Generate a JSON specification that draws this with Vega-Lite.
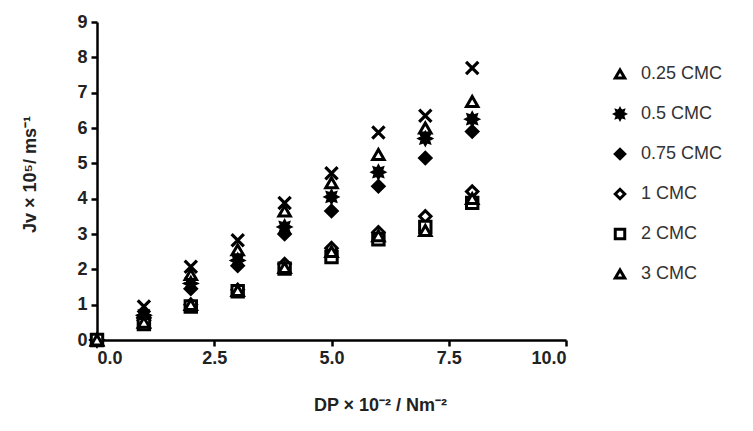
{
  "$schema": "https://vega.github.io/schema/vega-lite/v6.json",
  "width": 469,
  "height": 318,
  "autosize": {"type": "none"},
  "padding": {"left": 97, "top": 22, "right": 187, "bottom": 91},
  "background": "white",
  "config": {
    "view": {"stroke": null},
    "axis": {
      "domainColor": "black",
      "domainWidth": 2.5,
      "tickColor": "black",
      "tickWidth": 2.5,
      "tickSize": 6,
      "grid": false,
      "labelFont": "Liberation Sans",
      "labelFontWeight": "bold",
      "labelFontSize": 18,
      "labelColor": "#222",
      "titleFont": "Liberation Sans",
      "titleFontWeight": "bold",
      "titleFontSize": 18,
      "titleColor": "#222"
    },
    "legend": {
      "orient": "none", "legendX": 514, "legendY": 43, "padding": 0,
      "labelFont": "Liberation Sans", "labelFontSize": 18, "labelColor": "#333", "labelOffset": 12,
      "rowPadding": 18, "symbolSize": 90, "symbolStrokeWidth": 3
    }
  },
  "data": {
    "values": [
      {"series": "unlabelled", "dp": 0, "jv": 0},
      {"series": "unlabelled", "dp": 1, "jv": 0.95},
      {"series": "unlabelled", "dp": 2, "jv": 2.07},
      {"series": "unlabelled", "dp": 3, "jv": 2.82},
      {"series": "unlabelled", "dp": 4, "jv": 3.88},
      {"series": "unlabelled", "dp": 5, "jv": 4.72},
      {"series": "unlabelled", "dp": 6, "jv": 5.87},
      {"series": "unlabelled", "dp": 7, "jv": 6.35},
      {"series": "unlabelled", "dp": 8, "jv": 7.7},
      {"series": "0.25 CMC", "dp": 0, "jv": 0},
      {"series": "0.25 CMC", "dp": 1, "jv": 0.8},
      {"series": "0.25 CMC", "dp": 2, "jv": 1.85},
      {"series": "0.25 CMC", "dp": 3, "jv": 2.55},
      {"series": "0.25 CMC", "dp": 4, "jv": 3.65},
      {"series": "0.25 CMC", "dp": 5, "jv": 4.45},
      {"series": "0.25 CMC", "dp": 6, "jv": 5.25},
      {"series": "0.25 CMC", "dp": 7, "jv": 6.0},
      {"series": "0.25 CMC", "dp": 8, "jv": 6.75},
      {"series": "0.5 CMC", "dp": 0, "jv": 0},
      {"series": "0.5 CMC", "dp": 1, "jv": 0.7},
      {"series": "0.5 CMC", "dp": 2, "jv": 1.6},
      {"series": "0.5 CMC", "dp": 3, "jv": 2.25},
      {"series": "0.5 CMC", "dp": 4, "jv": 3.2},
      {"series": "0.5 CMC", "dp": 5, "jv": 4.05},
      {"series": "0.5 CMC", "dp": 6, "jv": 4.75},
      {"series": "0.5 CMC", "dp": 7, "jv": 5.7},
      {"series": "0.5 CMC", "dp": 8, "jv": 6.25},
      {"series": "0.75 CMC", "dp": 0, "jv": 0},
      {"series": "0.75 CMC", "dp": 1, "jv": 0.6},
      {"series": "0.75 CMC", "dp": 2, "jv": 1.45},
      {"series": "0.75 CMC", "dp": 3, "jv": 2.1},
      {"series": "0.75 CMC", "dp": 4, "jv": 3.0},
      {"series": "0.75 CMC", "dp": 5, "jv": 3.65},
      {"series": "0.75 CMC", "dp": 6, "jv": 4.35},
      {"series": "0.75 CMC", "dp": 7, "jv": 5.15},
      {"series": "0.75 CMC", "dp": 8, "jv": 5.9},
      {"series": "1 CMC", "dp": 0, "jv": 0},
      {"series": "1 CMC", "dp": 1, "jv": 0.55},
      {"series": "1 CMC", "dp": 2, "jv": 1.0},
      {"series": "1 CMC", "dp": 3, "jv": 1.42},
      {"series": "1 CMC", "dp": 4, "jv": 2.15},
      {"series": "1 CMC", "dp": 5, "jv": 2.6},
      {"series": "1 CMC", "dp": 6, "jv": 3.05},
      {"series": "1 CMC", "dp": 7, "jv": 3.5},
      {"series": "1 CMC", "dp": 8, "jv": 4.2},
      {"series": "2 CMC", "dp": 0, "jv": 0},
      {"series": "2 CMC", "dp": 1, "jv": 0.45},
      {"series": "2 CMC", "dp": 2, "jv": 0.95},
      {"series": "2 CMC", "dp": 3, "jv": 1.38},
      {"series": "2 CMC", "dp": 4, "jv": 2.02},
      {"series": "2 CMC", "dp": 5, "jv": 2.35},
      {"series": "2 CMC", "dp": 6, "jv": 2.85},
      {"series": "2 CMC", "dp": 7, "jv": 3.2},
      {"series": "2 CMC", "dp": 8, "jv": 3.88},
      {"series": "3 CMC", "dp": 0, "jv": 0},
      {"series": "3 CMC", "dp": 1, "jv": 0.5},
      {"series": "3 CMC", "dp": 2, "jv": 1.0},
      {"series": "3 CMC", "dp": 3, "jv": 1.4},
      {"series": "3 CMC", "dp": 4, "jv": 2.05},
      {"series": "3 CMC", "dp": 5, "jv": 2.5},
      {"series": "3 CMC", "dp": 6, "jv": 2.95},
      {"series": "3 CMC", "dp": 7, "jv": 3.1},
      {"series": "3 CMC", "dp": 8, "jv": 4.0}
    ]
  },
  "encoding": {
    "x": {"field": "dp", "type": "quantitative", "scale": {"domain": [0, 10], "nice": false},
      "axis": {"orient": "bottom", "values": [0, 2.5, 5, 7.5, 10], "format": ".1f", "title": "DP × 10⁻² / Nm⁻²", "titleX": 283, "titleY": 65, "titleAlign": "center", "titleBaseline": "middle", "labelPadding": 3}},
    "y": {"field": "jv", "type": "quantitative", "scale": {"domain": [0, 9], "nice": false},
      "axis": {"orient": "left", "values": [0, 1, 2, 3, 4, 5, 6, 7, 8, 9], "title": "Jv × 10⁵/ ms⁻¹", "titleX": -67, "titleY": 152, "titleAngle": 270, "titleAlign": "center", "titleBaseline": "middle", "labelPadding": 4}}
  },
  "layer": [
    {
      "transform": [{"filter": "datum.series === 'unlabelled'"}],
      "mark": {"type": "point", "shape": "M-1,-1L1,1M-1,1L1,-1", "filled": false, "stroke": "black", "strokeWidth": 3.2, "size": 150, "opacity": 1}
    },
    {
      "transform": [{"filter": "datum.series !== 'unlabelled'"}],
      "mark": {"type": "point", "strokeWidth": 3, "size": 130, "opacity": 1, "fillOpacity": 1, "strokeOpacity": 1},
      "encoding": {
        "shape": {"field": "series", "type": "nominal",
          "scale": {"domain": ["0.25 CMC", "0.5 CMC", "0.75 CMC", "1 CMC", "2 CMC", "3 CMC"],
                    "range": ["triangle-up", "M1,0L0.554,0.23L0.707,0.707L0.23,0.554L0,1L-0.23,0.554L-0.707,0.707L-0.554,0.23L-1,0L-0.554,-0.23L-0.707,-0.707L-0.23,-0.554L0,-1L0.23,-0.554L0.707,-0.707L0.554,-0.23Z", "diamond", "diamond", "square", "triangle-up"]},
          "legend": {"title": null}},
        "fill": {"field": "series", "type": "nominal",
          "scale": {"domain": ["0.25 CMC", "0.5 CMC", "0.75 CMC", "1 CMC", "2 CMC", "3 CMC"],
                    "range": ["white", "black", "black", "white", "white", "white"]},
          "legend": {"title": null}},
        "stroke": {"field": "series", "type": "nominal",
          "scale": {"domain": ["0.25 CMC", "0.5 CMC", "0.75 CMC", "1 CMC", "2 CMC", "3 CMC"],
                    "range": ["black", "black", "black", "black", "black", "black"]},
          "legend": {"title": null}}
      }
    }
  ]
}
